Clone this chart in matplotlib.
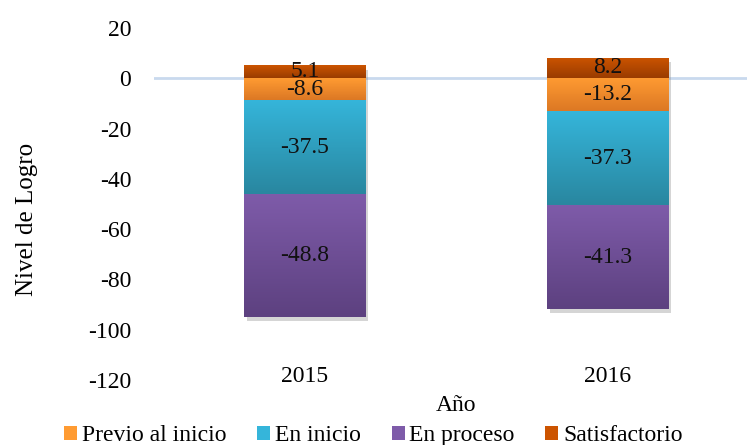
import numpy as np
import matplotlib
matplotlib.use("Agg")
import matplotlib.pyplot as plt
import matplotlib.patheffects as pe
from matplotlib.colors import LinearSegmentedColormap
from matplotlib.patches import Patch

plt.rcParams['font.family'] = ['Liberation Serif', 'DejaVu Serif']
plt.rcParams['axes.unicode_minus'] = False

# -------------------- datos --------------------
years = ['2015', '2016']
previo = [-8.6, -13.2]
en_inicio = [-37.5, -37.3]
en_proceso = [-48.8, -41.3]
satisfactorio = [5.1, 8.2]

# colores (arriba, abajo) del degradado
grad = {
    'Previo al inicio': ('#FF9B32', '#DC7824'),
    'En inicio': ('#35B5DA', '#2987A0'),
    'En proceso': ('#7E5BA9', '#5D4180'),
    'Satisfactorio': ('#CC5400', '#9A3C00'),
}

fig = plt.figure(figsize=(7.47, 4.45), dpi=100)
ax = fig.add_axes([153.5 / 747, 1 - 380 / 445, 606 / 747, 352 / 445])

x = np.arange(len(years))
b_prev = np.zeros(len(years))
b_ini = np.array(previo)
b_proc = b_ini + np.array(en_inicio)

series = [
    ('Satisfactorio', satisfactorio, np.zeros(len(years))),
    ('Previo al inicio', previo, b_prev),
    ('En inicio', en_inicio, b_ini),
    ('En proceso', en_proceso, b_proc),
]

ax.axhline(0, color='#C9D9EE', lw=2, zorder=0)

shadow = [pe.SimplePatchShadow(offset=(2, -3), shadow_rgbFace='#888888', alpha=0.35), pe.Normal()]

for name, vals, bottom in series:
    top, bot = grad[name]
    cmap = LinearSegmentedColormap.from_list(name, [bot, top])
    bars = ax.bar(x, vals, width=0.4, bottom=bottom, color=top, zorder=2,
                  path_effects=shadow)
    for rect, v in zip(bars, vals):
        x0, y0 = rect.get_x(), rect.get_y()
        w, h = rect.get_width(), rect.get_height()
        ylo, yhi = min(y0, y0 + h), max(y0, y0 + h)
        img = ax.imshow(np.linspace(0, 1, 64).reshape(-1, 1), cmap=cmap, origin='lower',
                        extent=(x0, x0 + w, ylo, yhi), aspect='auto', zorder=3)
        img.set_clip_path(rect)
        ax.text(x0 + w / 2, (ylo + yhi) / 2, f'{v}', ha='center', va='center',
                fontsize=17, color='#111111', zorder=4)

ax.set_xlim(-0.5, 1.5)
ax.set_ylim(-120, 20)
ax.set_yticks(np.arange(-120, 21, 20))
ax.set_xticks(x)
ax.set_xticklabels(years)
ax.tick_params(axis='y', length=0, pad=16, labelsize=17)
ax.tick_params(axis='x', length=0, pad=-10, labelsize=17)
for s in ax.spines.values():
    s.set_visible(False)

ax.set_xlabel('Año', fontsize=17, labelpad=6)
ax.set_ylabel('Nivel de Logro', fontsize=18)
ax.yaxis.set_label_coords(-0.19, 0.455)

order = ['Previo al inicio', 'En inicio', 'En proceso', 'Satisfactorio']
handles = [Patch(facecolor=grad[n][0], edgecolor='none', label=n) for n in order]
fig.legend(handles=handles, loc='lower center', bbox_to_anchor=(0.5, -0.05), ncol=4,
           frameon=False, fontsize=17, handlelength=0.55, handleheight=0.55,
           handletextpad=0.2, columnspacing=1.3)

fig.savefig('out.png', dpi=100)
